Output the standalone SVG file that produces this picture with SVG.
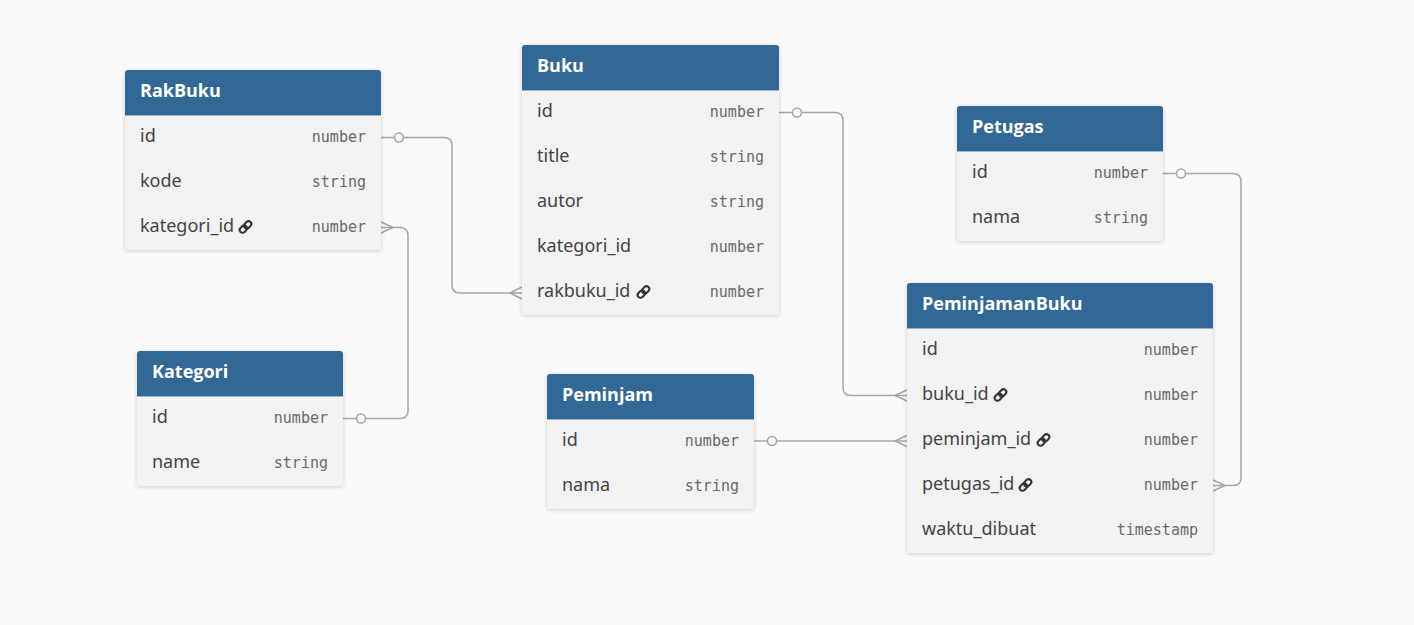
<svg xmlns="http://www.w3.org/2000/svg" xmlns:xlink="http://www.w3.org/1999/xlink" width="1414" height="625" viewBox="0 0 1414 625">
<style>
.bg{fill:#fafafa}
.body{fill:#f2f2f2}
.head{fill:#316896}
.title{font-family:"Open Sans","Noto Sans",sans-serif;font-weight:bold;font-size:18px;fill:#ffffff}
.fld{font-family:"Noto Sans","Open Sans",sans-serif;font-size:18px;fill:#444444}
.typ{font-family:"DejaVu Sans Mono","Liberation Mono",monospace;font-size:15px;fill:#6a6a6a;text-anchor:end}
.conn{fill:none;stroke:#a4a4ac;stroke-width:1.5}
.dot{fill:#fafafa;stroke:#a4a4ac;stroke-width:1.5}
.sep{stroke:#9bb5cc;stroke-width:1}
</style>
<defs>
<filter id="sh" x="-10%" y="-10%" width="120%" height="120%">
<feDropShadow dx="0" dy="1" stdDeviation="2" flood-color="#000" flood-opacity="0.18"/>
</filter>
<symbol id="link" viewBox="0 0 16 16">
<g transform="rotate(-45 8 8)" fill="none" stroke="#333" stroke-width="2.2">
<rect x="0.5" y="5" width="8.5" height="6" rx="3"/>
<rect x="7" y="5" width="8.5" height="6" rx="3"/>
</g>
</symbol>
</defs>
<rect class="bg" x="0" y="0" width="1414" height="625"/>

<g id="connectors">
<path class="conn" d="M381,137.5 H444 Q452,137.5 452,145.5 V285 Q452,293 460,293 H522"/>
<path class="conn" d="M522,287 L510,293 L522,299"/>
<circle class="dot" cx="399" cy="137.5" r="4.5"/>

<path class="conn" d="M343,418.5 H400 Q408,418.5 408,410.5 V235.5 Q408,227.5 400,227.5 H381"/>
<path class="conn" d="M381,222 L393,227.5 L381,233"/>
<circle class="dot" cx="361" cy="418.5" r="4.5"/>

<path class="conn" d="M779,112.5 H835 Q843,112.5 843,120.5 V387.5 Q843,395.5 851,395.5 H907"/>
<path class="conn" d="M907,390 L895,395.5 L907,401"/>
<circle class="dot" cx="797" cy="112.5" r="4.5"/>

<path class="conn" d="M754,441 H907"/>
<path class="conn" d="M907,435.5 L895,441 L907,446.5"/>
<circle class="dot" cx="772" cy="441" r="4.5"/>

<path class="conn" d="M1163,173.5 H1233 Q1241,173.5 1241,181.5 V477.5 Q1241,485.5 1233,485.5 H1213"/>
<path class="conn" d="M1213,480 L1225,485.5 L1213,491"/>
<circle class="dot" cx="1181" cy="173.5" r="4.5"/>
</g>

<g id="RakBuku" transform="translate(125,70)">
<rect class="body" width="256" height="180" rx="3" filter="url(#sh)"/>
<path class="head" d="M0,45 V3 Q0,0 3,0 H253 Q256,0 256,3 V45 Z"/>
<line class="sep" x1="0" y1="45.5" x2="256" y2="45.5"/>
<text class="title" x="15" y="27">RakBuku</text>
<text class="fld" x="15" y="72">id</text><text class="typ" x="241" y="72">number</text>
<text class="fld" x="15" y="117">kode</text><text class="typ" x="241" y="117">string</text>
<text class="fld" x="15" y="162">kategori_id</text><use href="#link" x="113" y="149.5" width="15" height="15"/><text class="typ" x="241" y="162">number</text>
</g>

<g id="Buku" transform="translate(522,45)">
<rect class="body" width="257" height="270" rx="3" filter="url(#sh)"/>
<path class="head" d="M0,45 V3 Q0,0 3,0 H254 Q257,0 257,3 V45 Z"/>
<line class="sep" x1="0" y1="45.5" x2="257" y2="45.5"/>
<text class="title" x="15" y="27">Buku</text>
<text class="fld" x="15" y="72">id</text><text class="typ" x="242" y="72">number</text>
<text class="fld" x="15" y="117">title</text><text class="typ" x="242" y="117">string</text>
<text class="fld" x="15" y="162">autor</text><text class="typ" x="242" y="162">string</text>
<text class="fld" x="15" y="207">kategori_id</text><text class="typ" x="242" y="207">number</text>
<text class="fld" x="15" y="252">rakbuku_id</text><use href="#link" x="114" y="239.5" width="15" height="15"/><text class="typ" x="242" y="252">number</text>
</g>

<g id="Kategori" transform="translate(137,351)">
<rect class="body" width="206" height="135" rx="3" filter="url(#sh)"/>
<path class="head" d="M0,45 V3 Q0,0 3,0 H203 Q206,0 206,3 V45 Z"/>
<line class="sep" x1="0" y1="45.5" x2="206" y2="45.5"/>
<text class="title" x="15" y="27">Kategori</text>
<text class="fld" x="15" y="72">id</text><text class="typ" x="191" y="72">number</text>
<text class="fld" x="15" y="117">name</text><text class="typ" x="191" y="117">string</text>
</g>

<g id="Peminjam" transform="translate(547,374)">
<rect class="body" width="207" height="135" rx="3" filter="url(#sh)"/>
<path class="head" d="M0,45 V3 Q0,0 3,0 H204 Q207,0 207,3 V45 Z"/>
<line class="sep" x1="0" y1="45.5" x2="207" y2="45.5"/>
<text class="title" x="15" y="27">Peminjam</text>
<text class="fld" x="15" y="72">id</text><text class="typ" x="192" y="72">number</text>
<text class="fld" x="15" y="117">nama</text><text class="typ" x="192" y="117">string</text>
</g>

<g id="Petugas" transform="translate(957,106)">
<rect class="body" width="206" height="135" rx="3" filter="url(#sh)"/>
<path class="head" d="M0,45 V3 Q0,0 3,0 H203 Q206,0 206,3 V45 Z"/>
<line class="sep" x1="0" y1="45.5" x2="206" y2="45.5"/>
<text class="title" x="15" y="27">Petugas</text>
<text class="fld" x="15" y="72">id</text><text class="typ" x="191" y="72">number</text>
<text class="fld" x="15" y="117">nama</text><text class="typ" x="191" y="117">string</text>
</g>

<g id="PeminjamanBuku" transform="translate(907,283)">
<rect class="body" width="306" height="270" rx="3" filter="url(#sh)"/>
<path class="head" d="M0,45 V3 Q0,0 3,0 H303 Q306,0 306,3 V45 Z"/>
<line class="sep" x1="0" y1="45.5" x2="306" y2="45.5"/>
<text class="title" x="15" y="27">PeminjamanBuku</text>
<text class="fld" x="15" y="72">id</text><text class="typ" x="291" y="72">number</text>
<text class="fld" x="15" y="117">buku_id</text><use href="#link" x="86" y="104.5" width="15" height="15"/><text class="typ" x="291" y="117">number</text>
<text class="fld" x="15" y="162">peminjam_id</text><use href="#link" x="129" y="149.5" width="15" height="15"/><text class="typ" x="291" y="162">number</text>
<text class="fld" x="15" y="207">petugas_id</text><use href="#link" x="111" y="194.5" width="15" height="15"/><text class="typ" x="291" y="207">number</text>
<text class="fld" x="15" y="252">waktu_dibuat</text><text class="typ" x="291" y="252">timestamp</text>
</g>
</svg>
